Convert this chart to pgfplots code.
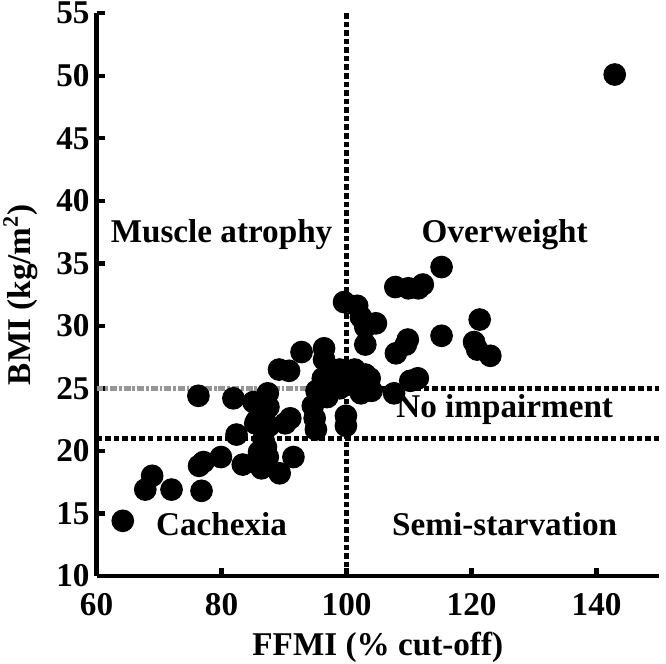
\documentclass[border=0pt]{standalone}
\usepackage{fontspec}
\setmainfont{Liberation Serif}
\usepackage{pgfplots}
\pgfplotsset{compat=1.18}
\begin{document}
\begin{tikzpicture}
\begin{axis}[
  scale only axis,
  width=203.4pt, height=203.4pt,
  xmin=60, xmax=150, ymin=10, ymax=55,
  axis x line=bottom, axis y line=left,
  axis line style={line width=1.6pt, -},
  xtick={60,80,100,120,140},
  ytick={10,15,20,25,30,35,40,45,50,55},
  tick align=inside,
  major tick length=3pt,
  tick style={line width=1.6pt, black},
  /pgf/number format/assume math mode=true,
  tick label style={font=\bfseries\fontsize{12}{14}\selectfont},
  xticklabel style={yshift=-3pt},
  yticklabel style={xshift=1pt},
  label style={font=\bfseries\fontsize{12}{14}\selectfont},
  xlabel={FFMI (\% cut-off)},
  xlabel style={yshift=1pt},
  ylabel={BMI (kg/m\textsuperscript{2})},
  ylabel style={yshift=0pt},
  clip=false,
]
\addplot[black, line width=1.6pt, dash pattern=on 2pt off 1.1pt] coordinates {(100,10) (100,55)};
\addplot[black, line width=1.6pt, dash pattern=on 2pt off 1.1pt] coordinates {(60,21) (150,21)};
\addplot[black, line width=1.6pt, dash pattern=on 2pt off 1.1pt] coordinates {(100,25) (150,25)};
\addplot[color={rgb,255:red,150;green,150;blue,150}, line width=1.6pt, dash pattern=on 2.5pt off 0.7pt on 1pt off 0.7pt] coordinates {(60,25) (100,25)};
\addplot[only marks, mark=*, mark size=3.9pt, mark options={fill=black, draw=black}] table {
x y
142.9 50.1
64.2 14.4
67.8 16.9
68.9 18.0
72.0 16.9
76.8 16.8
76.3 24.4
76.4 18.8
77.1 19.1
79.9 19.5
81.9 24.2
82.4 21.3
83.4 18.9
85.1 23.9
85.4 22.2
87.4 24.6
87.5 23.5
85.6 22.4
87.6 22.0
86.7 20.9
86.0 19.9
86.0 19.4
86.4 18.6
87.4 19.5
87.1 20.3
89.3 18.2
89.2 26.5
90.8 26.4
90.2 22.2
91.0 22.6
91.5 19.5
92.8 27.9
94.6 23.6
94.9 22.6
95.1 21.7
96.4 28.2
96.4 27.3
96.2 25.8
97.2 26.1
98.3 25.5
98.9 26.5
100.0 26.1
101.3 26.5
102.0 25.8
103.0 26.1
103.7 25.8
104.0 24.8
102.3 24.6
100.6 25.3
98.9 25.0
96.9 24.3
95.2 24.8
99.9 22.8
99.9 22.0
99.6 31.9
101.7 31.6
102.3 30.7
103.0 29.9
104.7 30.2
103.0 28.5
107.8 33.1
109.9 33.0
111.5 33.0
112.2 33.3
115.2 34.7
107.9 27.8
109.5 28.5
109.8 28.9
107.6 24.6
110.2 25.6
111.4 25.8
115.2 29.2
121.3 30.5
120.4 28.7
120.9 28.1
123.0 27.6
};
\node[font=\bfseries\fontsize{12}{14}\selectfont] at (axis cs:80,37.3) {Muscle atrophy};
\node[font=\bfseries\fontsize{12}{14}\selectfont] at (axis cs:125.3,37.3) {Overweight};
\node[font=\bfseries\fontsize{12}{14}\selectfont] at (axis cs:125.3,23.3) {No impairment};
\node[font=\bfseries\fontsize{12}{14}\selectfont] at (axis cs:80,14.1) {Cachexia};
\node[font=\bfseries\fontsize{12}{14}\selectfont] at (axis cs:125.3,14.1) {Semi-starvation};
\coordinate (ll) at (rel axis cs:0,0);
\coordinate (ur) at (rel axis cs:1,1);
\end{axis}
\pgfresetboundingbox
\path ([xshift=-34.9pt,yshift=-31.6pt]ll) rectangle ([xshift=2.5pt,yshift=4.8pt]ur);
\end{tikzpicture}
\end{document}
